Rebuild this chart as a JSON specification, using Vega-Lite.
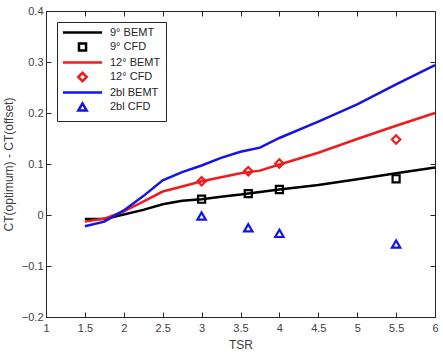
{
  "$schema": "https://vega.github.io/schema/vega-lite/v6.json",
  "width": 389,
  "height": 306,
  "padding": {"left": 2, "top": 5, "right": 8, "bottom": 4},
  "background": "white",
  "config": {
    "font": "Liberation Sans",
    "view": {"stroke": "#262626", "strokeWidth": 1},
    "axis": {
      "grid": false,
      "domainColor": "#262626",
      "tickColor": "#262626",
      "labelColor": "#404040",
      "titleColor": "#404040",
      "labelFont": "Liberation Sans",
      "titleFont": "Liberation Sans",
      "labelFontSize": 11,
      "titleFontSize": 12,
      "titleFontWeight": "normal",
      "tickSize": -5
    },
    "legend": {
      "orient": "top-left",
      "offset": 11,
      "padding": 5,
      "strokeColor": "#262626",
      "fillColor": "white",
      "labelFont": "Liberation Sans",
      "labelFontSize": 11,
      "labelColor": "#262626",
      "symbolStrokeWidth": 2.5,
      "rowPadding": -0.5,
      "symbolOffset": 15,
      "labelOffset": 22
    }
  },
  "data": {
    "values": [
      {"tsr": 1.5, "val": -0.008, "series": "9° BEMT"},
      {"tsr": 1.75, "val": -0.008, "series": "9° BEMT"},
      {"tsr": 2.0, "val": 0.001, "series": "9° BEMT"},
      {"tsr": 2.25, "val": 0.01, "series": "9° BEMT"},
      {"tsr": 2.5, "val": 0.021, "series": "9° BEMT"},
      {"tsr": 2.75, "val": 0.028, "series": "9° BEMT"},
      {"tsr": 3.0, "val": 0.031, "series": "9° BEMT"},
      {"tsr": 3.25, "val": 0.036, "series": "9° BEMT"},
      {"tsr": 3.5, "val": 0.04, "series": "9° BEMT"},
      {"tsr": 3.75, "val": 0.045, "series": "9° BEMT"},
      {"tsr": 4.0, "val": 0.05, "series": "9° BEMT"},
      {"tsr": 4.5, "val": 0.059, "series": "9° BEMT"},
      {"tsr": 5.0, "val": 0.07, "series": "9° BEMT"},
      {"tsr": 5.5, "val": 0.082, "series": "9° BEMT"},
      {"tsr": 6.0, "val": 0.093, "series": "9° BEMT"},

      {"tsr": 1.5, "val": -0.013, "series": "12° BEMT"},
      {"tsr": 1.75, "val": -0.007, "series": "12° BEMT"},
      {"tsr": 2.0, "val": 0.007, "series": "12° BEMT"},
      {"tsr": 2.25, "val": 0.026, "series": "12° BEMT"},
      {"tsr": 2.5, "val": 0.046, "series": "12° BEMT"},
      {"tsr": 2.75, "val": 0.056, "series": "12° BEMT"},
      {"tsr": 3.0, "val": 0.066, "series": "12° BEMT"},
      {"tsr": 3.25, "val": 0.074, "series": "12° BEMT"},
      {"tsr": 3.5, "val": 0.082, "series": "12° BEMT"},
      {"tsr": 3.75, "val": 0.087, "series": "12° BEMT"},
      {"tsr": 4.0, "val": 0.099, "series": "12° BEMT"},
      {"tsr": 4.5, "val": 0.122, "series": "12° BEMT"},
      {"tsr": 5.0, "val": 0.149, "series": "12° BEMT"},
      {"tsr": 5.5, "val": 0.175, "series": "12° BEMT"},
      {"tsr": 6.0, "val": 0.2, "series": "12° BEMT"},

      {"tsr": 1.5, "val": -0.022, "series": "2bl BEMT"},
      {"tsr": 1.75, "val": -0.013, "series": "2bl BEMT"},
      {"tsr": 2.0, "val": 0.009, "series": "2bl BEMT"},
      {"tsr": 2.25, "val": 0.037, "series": "2bl BEMT"},
      {"tsr": 2.5, "val": 0.068, "series": "2bl BEMT"},
      {"tsr": 2.75, "val": 0.084, "series": "2bl BEMT"},
      {"tsr": 3.0, "val": 0.097, "series": "2bl BEMT"},
      {"tsr": 3.25, "val": 0.112, "series": "2bl BEMT"},
      {"tsr": 3.5, "val": 0.124, "series": "2bl BEMT"},
      {"tsr": 3.75, "val": 0.132, "series": "2bl BEMT"},
      {"tsr": 4.0, "val": 0.151, "series": "2bl BEMT"},
      {"tsr": 4.5, "val": 0.183, "series": "2bl BEMT"},
      {"tsr": 5.0, "val": 0.217, "series": "2bl BEMT"},
      {"tsr": 5.5, "val": 0.256, "series": "2bl BEMT"},
      {"tsr": 6.0, "val": 0.294, "series": "2bl BEMT"},

      {"tsr": 3.0, "val": 0.031, "series": "9° CFD"},
      {"tsr": 3.6, "val": 0.042, "series": "9° CFD"},
      {"tsr": 4.0, "val": 0.05, "series": "9° CFD"},
      {"tsr": 5.5, "val": 0.071, "series": "9° CFD"},

      {"tsr": 3.0, "val": 0.066, "series": "12° CFD"},
      {"tsr": 3.6, "val": 0.086, "series": "12° CFD"},
      {"tsr": 4.0, "val": 0.101, "series": "12° CFD"},
      {"tsr": 5.5, "val": 0.148, "series": "12° CFD"},

      {"tsr": 3.0, "val": -0.002, "series": "2bl CFD"},
      {"tsr": 3.6, "val": -0.025, "series": "2bl CFD"},
      {"tsr": 4.0, "val": -0.036, "series": "2bl CFD"},
      {"tsr": 5.5, "val": -0.057, "series": "2bl CFD"}
    ]
  },
  "layer": [
    {
      "transform": [{"filter": "indexof(datum.series, 'BEMT') >= 0"}],
      "mark": {"type": "line", "strokeWidth": 2.5},
      "encoding": {
        "x": {
          "field": "tsr", "type": "quantitative", "title": "TSR",
          "scale": {"domain": [1, 6], "nice": false, "zero": false},
          "axis": {"values": [1, 1.5, 2, 2.5, 3, 3.5, 4, 4.5, 5, 5.5, 6], "format": "~g", "labelPadding": 10, "labelFlush": false, "titlePadding": 6}
        },
        "y": {
          "field": "val", "type": "quantitative", "title": "CT(optimum) - CT(offset)",
          "scale": {"domain": [-0.2, 0.4], "nice": false, "zero": false},
          "axis": {"values": [-0.2, -0.1, 0, 0.1, 0.2, 0.3, 0.4], "format": "~g", "labelPadding": 8, "labelFlush": false, "titlePadding": 6}
        },
        "color": {
          "field": "series", "type": "nominal", "title": null,
          "scale": {
            "domain": ["9° BEMT", "9° CFD", "12° BEMT", "12° CFD", "2bl BEMT", "2bl CFD"],
            "range": ["#000000", "#000000", "#ee1c1c", "#ee1c1c", "#1414e6", "#1414e6"]
          }
        },
        "detail": {"field": "series"}
      }
    },
    {
      "transform": [{"filter": "indexof(datum.series, 'CFD') >= 0"}],
      "mark": {"type": "point", "filled": false, "strokeWidth": 2.2, "opacity": 1},
      "encoding": {
        "x": {"field": "tsr", "type": "quantitative", "axis": {"orient": "top", "labels": false, "title": null, "values": [1, 1.5, 2, 2.5, 3, 3.5, 4, 4.5, 5, 5.5, 6], "domain": false}},
        "y": {"field": "val", "type": "quantitative", "axis": {"orient": "right", "labels": false, "title": null, "values": [-0.2, -0.1, 0, 0.1, 0.2, 0.3, 0.4], "domain": false}},
        "color": {"field": "series", "type": "nominal", "title": null},
        "shape": {
          "field": "series", "type": "nominal", "title": null,
          "scale": {
            "domain": ["9° BEMT", "9° CFD", "12° BEMT", "12° CFD", "2bl BEMT", "2bl CFD"],
            "range": ["M-4.9,0H4.9", "square", "M-4.9,0H4.9", "diamond", "M-4.9,0H4.9", "triangle-up"]
          }
        },
        "size": {
          "field": "series", "type": "nominal", "title": null,
          "scale": {
            "type": "ordinal",
            "domain": ["9° BEMT", "9° CFD", "12° BEMT", "12° CFD", "2bl BEMT", "2bl CFD"],
            "range": [64, 50, 64, 70, 64, 70]
          }
        }
      }
    }
  ],
  "resolve": {"axis": {"x": "independent", "y": "independent"}}
}
